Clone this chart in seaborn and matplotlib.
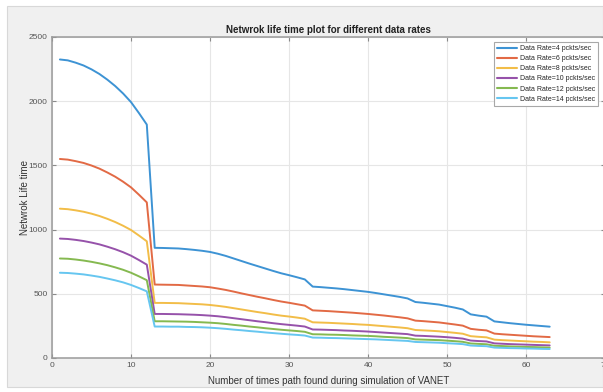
import matplotlib
matplotlib.use("Agg")
import matplotlib.pyplot as plt
import pandas as pd
import seaborn as sns
from matplotlib.patches import Rectangle

# Number of times a path was found during the VANET simulation
path_count = list(range(1, 64))

rate_labels = [
    "Data Rate=4 pckts/sec",
    "Data Rate=6 pckts/sec",
    "Data Rate=8 pckts/sec",
    "Data Rate=10 pckts/sec",
    "Data Rate=12 pckts/sec",
    "Data Rate=14 pckts/sec",
]

life_rate4 = [2325, 2318, 2300, 2278, 2248, 2212, 2168, 2118, 2060, 1993, 1908, 1818,
              858, 857, 855, 853, 848, 842, 835, 826, 812, 795, 775, 755, 735, 716,
              697, 678, 660, 645, 629, 612,
              556, 552, 547, 542, 536, 529, 522, 515, 506, 496, 486, 476, 464, 436,
              430, 423, 416, 404, 392, 378, 340, 330, 322, 285, 278, 271, 265, 259,
              254, 249, 244]
life_rate6 = [1550, 1545, 1533, 1519, 1499, 1475, 1445, 1412, 1373, 1329, 1272, 1212,
              572, 571, 570, 569, 565, 561, 557, 551, 541, 530, 517, 503, 490, 477,
              465, 452, 440, 430, 419, 408,
              371, 368, 365, 361, 357, 353, 348, 343, 337, 331, 324, 317, 309, 291,
              287, 282, 277, 269, 261, 252, 227, 220, 215, 190, 185, 181, 177, 173,
              169, 166, 163]
life_rate8 = [1163, 1159, 1150, 1139, 1124, 1106, 1084, 1059, 1030, 997, 954, 909,
              429, 429, 428, 427, 424, 421, 418, 413, 406, 398, 388, 378, 368, 358,
              349, 339, 330, 323, 315, 306,
              278, 276, 274, 271, 268, 265, 261, 258, 253, 248, 243, 238, 232, 218,
              215, 212, 208, 202, 196, 189, 170, 165, 161, 143, 139, 136, 133, 130,
              127, 125, 122]
life_rate10 = [930, 927, 920, 911, 899, 885, 867, 847, 824, 797, 763, 727,
               343, 343, 342, 341, 339, 337, 334, 330, 325, 318, 310, 302, 294, 286,
               279, 271, 264, 258, 252, 245,
               222, 221, 219, 217, 214, 212, 209, 206, 202, 198, 194, 190, 186, 174,
               172, 169, 166, 162, 157, 151, 136, 132, 129, 114, 111, 108, 106, 104,
               102, 100, 98]
life_rate12 = [775, 773, 767, 759, 749, 737, 723, 706, 687, 664, 636, 606,
               286, 286, 285, 284, 283, 281, 278, 275, 271, 265, 258, 252, 245, 239,
               232, 226, 220, 215, 210, 204,
               185, 184, 182, 181, 179, 176, 174, 172, 169, 165, 162, 159, 155, 145,
               143, 141, 139, 135, 131, 126, 113, 110, 107, 95, 93, 90, 88, 86,
               85, 83, 81]
life_rate14 = [664, 662, 657, 651, 642, 632, 619, 605, 589, 569, 545, 519,
               245, 245, 244, 244, 242, 241, 239, 236, 232, 227, 221, 216, 210, 205,
               199, 194, 189, 184, 180, 175,
               159, 158, 156, 155, 153, 151, 149, 147, 145, 142, 139, 136, 133, 125,
               123, 121, 119, 115, 112, 108, 97, 94, 92, 81, 79, 77, 76, 74,
               73, 71, 70]

x_ticks = [0, 10, 20, 30, 40, 50, 60, 70]
y_ticks = [0, 500, 1000, 1500, 2000, 2500]

line_colors = ["#3d93d4", "#e26a45", "#f2bd48", "#9652aa", "#85b950", "#66c6f0"]

series = [life_rate4, life_rate6, life_rate8, life_rate10, life_rate12, life_rate14]
frames = []
for label, values in zip(rate_labels, series):
    frames.append(pd.DataFrame({"path": path_count, "life": values, "rate": label}))
df = pd.concat(frames, ignore_index=True)

sns.set_theme(style="whitegrid")
plt.rcParams["font.family"] = ["Liberation Sans", "DejaVu Sans"]

fig = plt.figure(figsize=(6.03, 3.92), dpi=100, facecolor="white")
fig.patches.append(Rectangle((7 / 603, 5 / 392), 596 / 603, 381 / 392,
                             transform=fig.transFigure, facecolor="#f0f0f0",
                             edgecolor="#d8d8d8", lw=0.8, zorder=-10))

ax = fig.add_axes([52 / 603, 34 / 392, 553 / 603, 321 / 392])
ax.set_facecolor("white")

sns.lineplot(data=df, x="path", y="life", hue="rate", hue_order=rate_labels,
             palette=line_colors, linewidth=1.4, ax=ax, legend=True)

ax.set_xlim(0, 70)
ax.set_ylim(0, 2500)
ax.set_xticks(x_ticks)
ax.set_yticks(y_ticks)
ax.set_xticklabels([str(t) for t in x_ticks])
ax.set_yticklabels([str(t) for t in y_ticks])

ax.grid(True, color="#e6e6e6", linewidth=0.8)
for side in ["left", "bottom", "top", "right"]:
    ax.spines[side].set_visible(True)
    ax.spines[side].set_color("#9a9a9a")
    ax.spines[side].set_linewidth(1.1)
ax.tick_params(axis="both", direction="in", length=3, width=0.8, color="#8a8a8a",
               labelsize=6, labelcolor="#555555", top=True, right=True,
               bottom=True, left=True, pad=3)

ax.set_title("Netwrok life time plot for different data rates", fontsize=7,
             fontweight="bold", color="#222222", pad=3)
ax.set_xlabel("Number of times path found during simulation of VANET", fontsize=7,
              color="#333333", labelpad=5)
ax.set_ylabel("Netwrok Life time", fontsize=7, color="#333333", labelpad=-1)

handles, labels = ax.get_legend_handles_labels()
leg = ax.legend(handles, labels, loc="upper right",
                bbox_to_anchor=(598 / 603, 1 - 42 / 392),
                bbox_transform=fig.transFigure, fontsize=5.0, frameon=True,
                fancybox=False, edgecolor="#a8a8a8", framealpha=1,
                handlelength=2.8, handletextpad=0.4, labelspacing=0.45,
                borderpad=0.45, borderaxespad=0)
leg.get_frame().set_linewidth(0.8)
for line in leg.get_lines():
    line.set_linewidth(1.5)

fig.savefig("out.png", dpi=100, facecolor=fig.get_facecolor())
